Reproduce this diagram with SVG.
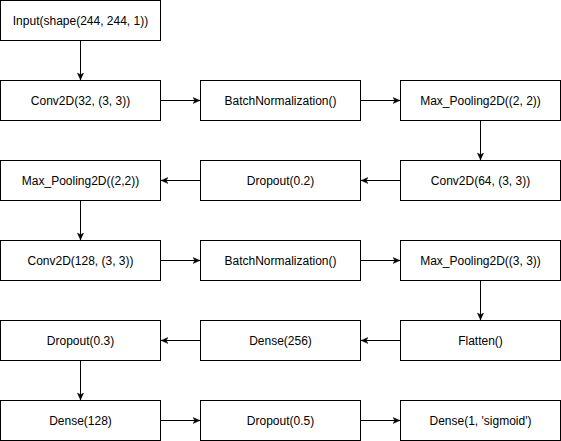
<svg xmlns="http://www.w3.org/2000/svg" width="561" height="441" viewBox="0 0 561 441">
  <style>
    .node rect { fill: #ffffff; stroke: #000000; stroke-width: 1; }
    .node text { font-family: "Liberation Sans", Arial, sans-serif; font-size: 12px; fill: #000000; text-anchor: middle; dominant-baseline: central; }
    .edge { fill: none; stroke: #000000; stroke-width: 1; marker-end: url(#arrow); }
  </style>
  <defs>
    <marker id="arrow" viewBox="0 0 10 10" refX="9" refY="5" markerWidth="8" markerHeight="8" markerUnits="userSpaceOnUse" orient="auto">
      <path d="M0,1 L9,5 L0,9 L2.5,5 Z" fill="#000000" stroke="#000000" stroke-width="0.5"/>
    </marker>
  </defs>
  <rect width="561" height="441" fill="#ffffff"/>

  <g id="connectors">
    <path class="edge" d="M80.5,40.5 V80"/>
    <path class="edge" d="M160.5,100.5 H200"/>
    <path class="edge" d="M360.5,100.5 H400"/>
    <path class="edge" d="M480.5,120.5 V160"/>
    <path class="edge" d="M400.5,180.5 H361"/>
    <path class="edge" d="M200.5,180.5 H161"/>
    <path class="edge" d="M80.5,200.5 V240"/>
    <path class="edge" d="M160.5,260.5 H200"/>
    <path class="edge" d="M360.5,260.5 H400"/>
    <path class="edge" d="M480.5,280.5 V320"/>
    <path class="edge" d="M400.5,340.5 H361"/>
    <path class="edge" d="M200.5,340.5 H161"/>
    <path class="edge" d="M80.5,360.5 V400"/>
    <path class="edge" d="M160.5,420.5 H200"/>
    <path class="edge" d="M360.5,420.5 H400"/>
  </g>

  <g id="input" class="node"><rect x="0.5" y="0.5" width="160" height="40"/><text x="80.5" y="20.5">Input(shape(244, 244, 1))</text></g>

  <g id="conv1" class="node"><rect x="0.5" y="80.5" width="160" height="40"/><text x="80.5" y="100.5">Conv2D(32, (3, 3))</text></g>
  <g id="bn1" class="node"><rect x="200.5" y="80.5" width="160" height="40"/><text x="280.5" y="100.5">BatchNormalization()</text></g>
  <g id="pool1" class="node"><rect x="400.5" y="80.5" width="160" height="40"/><text x="480.5" y="100.5">Max_Pooling2D((2, 2))</text></g>

  <g id="pool2" class="node"><rect x="0.5" y="160.5" width="160" height="40"/><text x="80.5" y="180.5">Max_Pooling2D((2,2))</text></g>
  <g id="drop1" class="node"><rect x="200.5" y="160.5" width="160" height="40"/><text x="280.5" y="180.5">Dropout(0.2)</text></g>
  <g id="conv2" class="node"><rect x="400.5" y="160.5" width="160" height="40"/><text x="480.5" y="180.5">Conv2D(64, (3, 3))</text></g>

  <g id="conv3" class="node"><rect x="0.5" y="240.5" width="160" height="40"/><text x="80.5" y="260.5">Conv2D(128, (3, 3))</text></g>
  <g id="bn2" class="node"><rect x="200.5" y="240.5" width="160" height="40"/><text x="280.5" y="260.5">BatchNormalization()</text></g>
  <g id="pool3" class="node"><rect x="400.5" y="240.5" width="160" height="40"/><text x="480.5" y="260.5">Max_Pooling2D((3, 3))</text></g>

  <g id="drop2" class="node"><rect x="0.5" y="320.5" width="160" height="40"/><text x="80.5" y="340.5">Dropout(0.3)</text></g>
  <g id="dense256" class="node"><rect x="200.5" y="320.5" width="160" height="40"/><text x="280.5" y="340.5">Dense(256)</text></g>
  <g id="flatten" class="node"><rect x="400.5" y="320.5" width="160" height="40"/><text x="480.5" y="340.5">Flatten()</text></g>

  <g id="dense128" class="node"><rect x="0.5" y="400.5" width="160" height="40"/><text x="80.5" y="420.5">Dense(128)</text></g>
  <g id="drop3" class="node"><rect x="200.5" y="400.5" width="160" height="40"/><text x="280.5" y="420.5">Dropout(0.5)</text></g>
  <g id="output" class="node"><rect x="400.5" y="400.5" width="160" height="40"/><text x="480.5" y="420.5">Dense(1, 'sigmoid')</text></g>
</svg>
